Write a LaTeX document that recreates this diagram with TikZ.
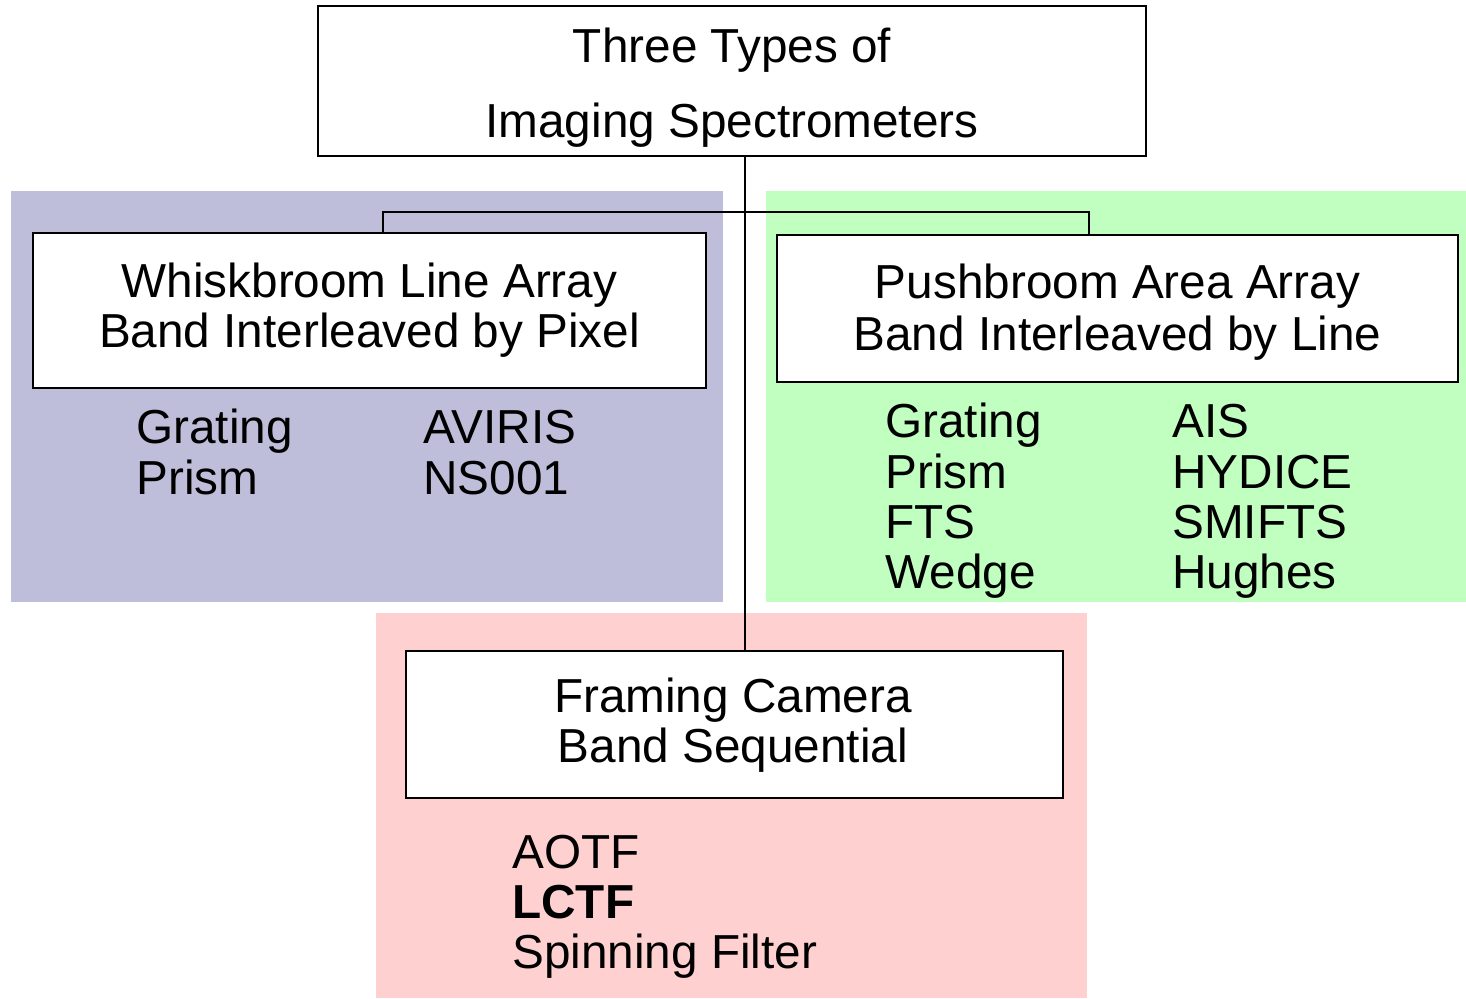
\documentclass[tikz,border=0pt]{standalone}
\usepackage{fontspec}
\setmainfont{Liberation Sans}
\definecolor{bluebg}{HTML}{BEBEDB}
\definecolor{greenbg}{HTML}{C0FFC0}
\definecolor{pinkbg}{HTML}{FFD0D0}
\begin{document}
\begin{tikzpicture}[x=0.5pt,y=-0.5pt,
  box/.style={draw=black, line width=1pt, fill=white, inner sep=0pt},
  conn/.style={draw=black, line width=0.8pt},
  ctext/.style={font=\fontsize{23.85}{25}\selectfont, inner sep=0pt, anchor=base},
  ltext/.style={font=\fontsize{23.85}{25}\selectfont, inner sep=0pt, anchor=base west}]
\useasboundingbox (0,0) rectangle (1466,998);
% background panels
\fill[bluebg] (11,191) rectangle (723,602);
\fill[greenbg] (766,191) rectangle (1466,602);
\fill[pinkbg] (376,613) rectangle (1087,998);
% boxes
\node[box, minimum width=414pt, minimum height=75pt] (top) at (732,81) {};
\node[box, minimum width=336.5pt, minimum height=77.5pt] (whisk) at (369.5,310.5) {};
\node[box, minimum width=340.5pt, minimum height=73.5pt] (push) at (1117.5,308.5) {};
\node[box, minimum width=328.5pt, minimum height=73.5pt] (frame) at (734.5,724.5) {};
% connectors
\coordinate (jx) at (745,0);
\coordinate (wl) at (383,212);
\coordinate (pr) at (1089,212);
\draw[conn] (top.south -| jx) -- (frame.north -| jx);
\draw[conn] (whisk.north -| wl) -- (wl) -- (pr) -- (push.north -| pr);
% texts
\node[ctext] (t1) at (732,62) {Three Types of};
\node[ctext] (t2) at (732,137) {Imaging Spectrometers};
\node[ctext] (w1) at (369.5,297) {Whiskbroom Line Array};
\node[ctext] (w2) at (369.5,347) {Band Interleaved by Pixel};
\node[ltext] (wa1) at (136,443) {Grating};
\node[ltext] (wa2) at (136,494) {Prism};
\node[ltext] (wb1) at (423,443) {AVIRIS};
\node[ltext] (wb2) at (423,494) {NS001};
\node[ctext] (p1) at (1117.5,298) {Pushbroom Area Array};
\node[ctext] (p2) at (1117.5,350) {Band Interleaved by Line};
\node[ltext] (pa1) at (885,437) {Grating};
\node[ltext] (pa2) at (885,488) {Prism};
\node[ltext] (pa3) at (885,538) {FTS};
\node[ltext] (pa4) at (885,588) {Wedge};
\node[ltext] (pb1) at (1172,437) {AIS};
\node[ltext] (pb2) at (1172,488) {HYDICE};
\node[ltext] (pb3) at (1172,538) {SMIFTS};
\node[ltext] (pb4) at (1172,588) {Hughes};
\node[ctext] (f1) at (733,712) {Framing Camera};
\node[ctext] (f2) at (733,762) {Band Sequential};
\node[ltext] (fa1) at (512,868) {AOTF};
\node[ltext, font=\fontsize{23.85}{25}\selectfont\bfseries] (fa2) at (512,918) {LCTF};
\node[ltext] (fa3) at (512,968) {Spinning Filter};
\end{tikzpicture}
\end{document}
